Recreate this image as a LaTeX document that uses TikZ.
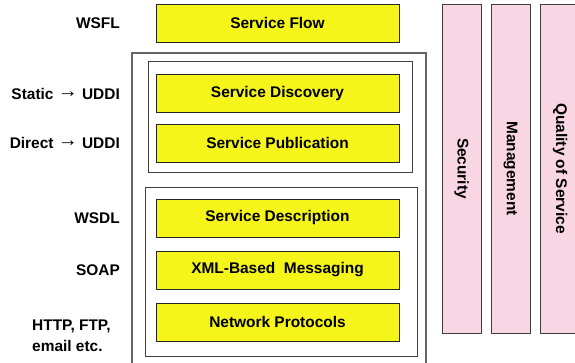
\documentclass[tikz,border=0pt]{standalone}
\usepackage{fontspec}
\setmainfont{Liberation Sans}
\usetikzlibrary{positioning}
\definecolor{layeryellow}{RGB}{245,245,26}
\definecolor{qospink}{RGB}{248,214,228}
\newcommand{\stackfont}{\bfseries\fontsize{15.5}{21}\selectfont}
\newcommand{\toarrow}{\raisebox{1.8bp}{\fontsize{20}{21}\selectfont\textrightarrow}}
\tikzset{
  layer/.style={draw=black!85, line width=0.9bp, fill=layeryellow, minimum width=243bp, minimum height=38bp, inner sep=0pt, font=\stackfont},
  tag/.style={anchor=east, inner sep=0pt, font=\stackfont},
  pillar/.style={draw=black!75, line width=0.9bp, fill=qospink, minimum width=329bp, minimum height=39bp, inner sep=0pt, rotate=-90, font=\stackfont},
  frame/.style={draw=black!75, line width=0.9bp},
}

\begin{document}
\begin{tikzpicture}[x=1bp,y=1bp]
  \useasboundingbox (0,0) rectangle (575,362);

  % outer and inner frames
  \draw[frame, draw=black!60, line width=1.3bp] (132,-3) -- (132,309) -- (426,309) -- (426,-3);
  \draw[frame] (148,301) rectangle (412,190);
  \draw[frame] (145,175) rectangle (417,6);

  % the stack
  \node[layer] (flow) at (277.5,339)   {Service Flow};
  \node[layer] (disc) at (277.5,268.5) {Service Discovery};
  \node[layer] (publ) at (277.5,219)   {Service Publication};
  \node[layer] (desc) at (277.5,144)   {Service Description};
  \node[layer] (xmlm) at (277.5,92)    {XML-Based\ \ Messaging};
  \node[layer] (netp) at (277.5,40)    {Network Protocols};

  % what sits in each layer
  \node[tag] (wsfl) at (120,339)   {WSFL};
  \node[tag] (uddis) at (120,268.5) {Static \toarrow{} UDDI};
  \node[tag] (uddid) at (120,219)   {Direct \toarrow{} UDDI};
  \node[tag] (wsdl) at (120,144)   {WSDL};
  \node[tag] (soap) at (120,92)    {SOAP};
  \node[tag, anchor=west, align=left] (http) at (32,26) {HTTP, FTP,\\email etc.};

  % vertical concerns
  \node[pillar] (secu) at (461.5,193.5) {Security};
  \node[pillar] (mgmt) at (510.5,193.5) {Management};
  \node[pillar] (qos)  at (560,193.5)   {Quality of Service};
\end{tikzpicture}
\end{document}
